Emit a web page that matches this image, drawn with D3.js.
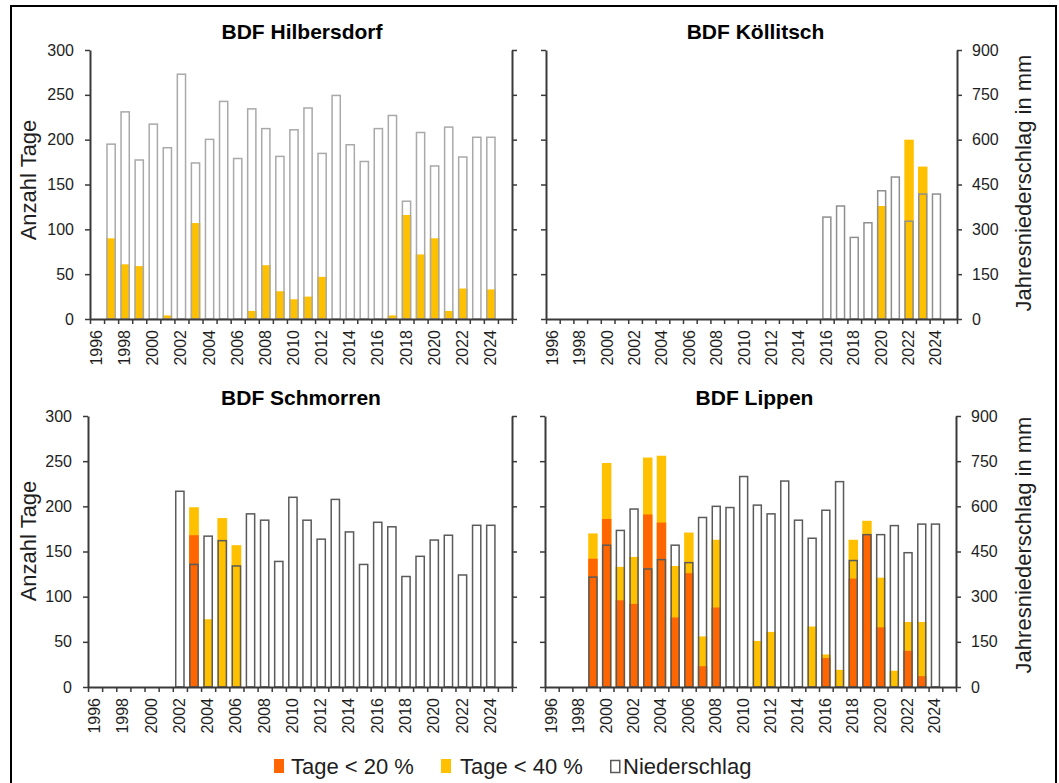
<!DOCTYPE html>
<html>
<head>
<meta charset="utf-8">
<script src="https://cdn.jsdelivr.net/npm/d3@7/dist/d3.min.js"></script>
<style>
  body { margin: 0; background: #fff; }
  svg { display: block; font-family: "Liberation Sans", Arial, sans-serif; }
</style>
</head>
<body>
<script>
// categories: one per year, only even years get a label
const years = [1996, 1997, 1998, 1999, 2000, 2001, 2002, 2003, 2004, 2005,
               2006, 2007, 2008, 2009, 2010, 2011, 2012, 2013, 2014, 2015,
               2016, 2017, 2018, 2019, 2020, 2021, 2022, 2023, 2024, 2025];
const yearLabels = [1996, 1998, 2000, 2002, 2004, 2006, 2008, 2010, 2012, 2014, 2016, 2018, 2020, 2022, 2024];
const dayTicks = [0, 50, 100, 150, 200, 250, 300];
const rainTicks = [0, 150, 300, 450, 600, 750, 900];

// Jahresniederschlag in mm (null = no data)
const rainHilbersdorf = [null, 585, 693, 532, 652, 573, 819, 522, 601, 728, 537, 703, 637, 544, 633,
                         706, 554, 748, 583, 527, 637, 681, 394, 624, 512, 642, 542, 608, 608, null];
const rainKoellitsch = [null, null, null, null, null, null, null, null, null, null, null, null, null, null, null,
                        null, null, null, null, null, 341, 378, 273, 322, 429, 475, 327, 418, 418, null];
const rainSchmorren = [null, null, null, null, null, null, 650, 407, 501, 486, 402, 575, 554, 417, 630,
                       554, 491, 623, 515, 407, 547, 532, 367, 434, 488, 504, 372, 537, 537, null];
const rainLippen = [null, null, null, 365, 471, 520, 591, 392, 423, 471, 413, 563, 600, 596, 699,
                    604, 575, 684, 554, 494, 587, 682, 420, 506, 506, 536, 446, 541, 541, null];

// Tage < 20 % (Anzahl Tage)
const t20Hilbersdorf = [0, 0, 0, 0, 0, 0, 0, 0, 0, 0, 0, 0, 0, 0, 0,
                        0, 0, 0, 0, 0, 0, 0, 0, 0, 0, 0, 0, 0, 0, 0];
const t20Koellitsch = [0, 0, 0, 0, 0, 0, 0, 0, 0, 0, 0, 0, 0, 0, 0,
                       0, 0, 0, 0, 0, 0, 0, 0, 0, 0, 0, 0, 0, 0, 0];
const t20Schmorren = [0, 0, 0, 0, 0, 0, 0, 168, 0, 0, 0, 0, 0, 0, 0,
                      0, 0, 0, 0, 0, 0, 0, 0, 0, 0, 0, 0, 0, 0, 0];
const t20Lippen = [0, 0, 0, 142, 186, 96, 92, 191, 182, 77, 126, 23, 88, 0, 0,
                   0, 0, 0, 0, 0, 32, 0, 120, 169, 66, 0, 40, 12, 0, 0];

// Tage < 40 % (Anzahl Tage, includes the < 20 % days)
const t40Hilbersdorf = [0, 90, 61, 59, 0, 4, 0, 107, 0, 0, 0, 9, 60, 31, 22,
                        25, 47, 0, 0, 0, 0, 4, 116, 72, 90, 9, 34, 0, 33, 0];
const t40Koellitsch = [0, 0, 0, 0, 0, 0, 0, 0, 0, 0, 0, 0, 0, 0, 0,
                       0, 0, 0, 0, 0, 0, 0, 0, 0, 126, 0, 200, 170, 0, 0];
const t40Schmorren = [0, 0, 0, 0, 0, 0, 0, 199, 75, 187, 157, 0, 0, 0, 0,
                      0, 0, 0, 0, 0, 0, 0, 0, 0, 0, 0, 0, 0, 0, 0];
const t40Lippen = [0, 0, 0, 170, 248, 133, 144, 254, 256, 134, 171, 56, 163, 0, 0,
                   51, 61, 0, 0, 67, 36, 19, 163, 184, 121, 18, 72, 72, 0, 0];

const ORANGE = '#ff6600';
const YELLOW = '#ffc000';
const AXIS = '#3a3a3a';
const TEXT = '#1e1e1e';

const panels = [
  {title: 'BDF Hilbersdorf', rain: rainHilbersdorf, t20: t20Hilbersdorf, t40: t40Hilbersdorf,
   x0: 90, x1: 512, y0: 50, y1: 319, left: true, outline: '#a9a9a9', yTitle: 180},
  {title: 'BDF Köllitsch', rain: rainKoellitsch, t20: t20Koellitsch, t40: t40Koellitsch,
   x0: 546, x1: 957, y0: 50, y1: 319, left: false, outline: '#8f8f8f', yTitle: 183},
  {title: 'BDF Schmorren', rain: rainSchmorren, t20: t20Schmorren, t40: t40Schmorren,
   x0: 88, x1: 512, y0: 416, y1: 687, left: true, outline: '#5a5a5a', yTitle: 541},
  {title: 'BDF Lippen', rain: rainLippen, t20: t20Lippen, t40: t40Lippen,
   x0: 545, x1: 956, y0: 416, y1: 687, left: false, outline: '#5a5a5a', yTitle: 545}
];

const svg = d3.select('body').append('svg')
    .attr('width', 1059)
    .attr('height', 783);

svg.append('rect')
    .attr('x', 11).attr('y', 6)
    .attr('width', 1045).attr('height', 790)
    .attr('fill', 'none')
    .attr('stroke', '#000')
    .attr('stroke-width', 2);

panels.forEach(p => {
    const g = svg.append('g');

    const x = d3.scaleBand()
        .domain(years)
        .range([p.x0, p.x1])
        .paddingInner(0.31)
        .paddingOuter(0.155);
    const xEdge = d3.scaleLinear()
        .domain([1996, 2026])
        .range([p.x0, p.x1]);
    const yDays = d3.scaleLinear().domain([0, 300]).range([p.y1, p.y0]);
    const yRain = d3.scaleLinear().domain([0, 900]).range([p.y1, p.y0]);

    const rows = years.map((yr, i) => ({year: yr, rain: p.rain[i], t20: p.t20[i], t40: p.t40[i]}));

    // Tage < 40 % (yellow) behind Tage < 20 % (orange)
    g.append('g').selectAll('rect')
        .data(rows.filter(d => d.t40 > 0))
        .enter().append('rect')
        .attr('x', d => x(d.year))
        .attr('width', x.bandwidth())
        .attr('y', d => yDays(d.t40))
        .attr('height', d => yDays(0) - yDays(d.t40))
        .attr('fill', YELLOW);

    g.append('g').selectAll('rect')
        .data(rows.filter(d => d.t20 > 0))
        .enter().append('rect')
        .attr('x', d => x(d.year))
        .attr('width', x.bandwidth())
        .attr('y', d => yDays(d.t20))
        .attr('height', d => yDays(0) - yDays(d.t20))
        .attr('fill', ORANGE);

    // Niederschlag as hollow bars on top
    g.append('g').selectAll('rect')
        .data(rows.filter(d => d.rain != null))
        .enter().append('rect')
        .attr('x', d => x(d.year) + 0.75)
        .attr('width', x.bandwidth() - 1.5)
        .attr('y', d => yRain(d.rain))
        .attr('height', d => yRain(0) - yRain(d.rain))
        .attr('fill', 'none')
        .attr('stroke', p.outline)
        .attr('stroke-width', 1.5);

    // x axis: ticks at category edges
    const xAxis = g.append('g')
        .attr('transform', `translate(0,${p.y1})`)
        .call(d3.axisBottom(xEdge).tickValues(d3.range(1996, 2027)).tickFormat('').tickSize(5).tickSizeOuter(0));
    xAxis.select('.domain').attr('stroke', AXIS).attr('stroke-width', 2);
    xAxis.selectAll('.tick line').attr('stroke', AXIS).attr('stroke-width', 1.5);

    g.append('g').selectAll('text')
        .data(yearLabels)
        .enter().append('text')
        .attr('transform', d => `translate(${x(d) + x.bandwidth() / 2 + 5},${p.y1 + 11}) rotate(-90)`)
        .attr('text-anchor', 'end')
        .attr('font-size', 16)
        .attr('fill', TEXT)
        .text(d => d);

    // left axis (Anzahl Tage)
    const yLeft = g.append('g')
        .attr('transform', `translate(${p.x0},0)`)
        .call(d3.axisLeft(yDays).tickValues(dayTicks).tickSize(5).tickSizeOuter(0).tickPadding(11)
            .tickFormat(p.left ? d3.format('d') : ''));
    yLeft.select('.domain').attr('stroke', AXIS).attr('stroke-width', 2);
    yLeft.selectAll('.tick line').attr('stroke', AXIS).attr('stroke-width', 1.5);
    yLeft.selectAll('.tick text').attr('font-size', 16).attr('fill', TEXT).attr('font-family', null);

    // right axis (Jahresniederschlag)
    const yRight = g.append('g')
        .attr('transform', `translate(${p.x1},0)`)
        .call(d3.axisRight(yRain).tickValues(rainTicks).tickSize(5).tickSizeOuter(0).tickPadding(10)
            .tickFormat(p.left ? '' : d3.format('d')));
    yRight.select('.domain').attr('stroke', AXIS).attr('stroke-width', 2);
    yRight.selectAll('.tick line').attr('stroke', AXIS).attr('stroke-width', 1.5);
    yRight.selectAll('.tick text').attr('font-size', 16).attr('fill', TEXT).attr('font-family', null);

    // panel title
    g.append('text')
        .attr('x', (p.x0 + p.x1) / 2 + (p.left ? 1 : 4))
        .attr('y', p.y0 - 11)
        .attr('text-anchor', 'middle')
        .attr('font-size', 21)
        .attr('font-weight', 'bold')
        .attr('fill', '#000')
        .text(p.title);

    // axis titles
    if (p.left) {
        g.append('text')
            .attr('transform', `translate(28,${p.yTitle}) rotate(-90)`)
            .attr('text-anchor', 'middle')
            .attr('dominant-baseline', 'central')
            .attr('font-size', 22)
            .attr('fill', TEXT)
            .text('Anzahl Tage');
    } else {
        g.append('text')
            .attr('transform', `translate(1023,${p.yTitle}) rotate(-90)`)
            .attr('text-anchor', 'middle')
            .attr('dominant-baseline', 'central')
            .attr('font-size', 22)
            .attr('fill', TEXT)
            .text('Jahresniederschlag in mm');
    }
});

// legend
const legendItems = [
    {label: 'Tage < 20 %', fill: ORANGE, stroke: 'none', x: 274, tx: 291},
    {label: 'Tage < 40 %', fill: YELLOW, stroke: 'none', x: 441, tx: 460},
    {label: 'Niederschlag', fill: 'none', stroke: '#5a5a5a', x: 610, tx: 623}
];
const legend = svg.append('g');
const li = legend.selectAll('g')
    .data(legendItems)
    .enter().append('g');
li.append('rect')
    .attr('x', d => d.stroke === 'none' ? d.x : d.x + 0.75)
    .attr('y', d => d.stroke === 'none' ? 759 : 760.5)
    .attr('width', d => d.stroke === 'none' ? 10 : 9)
    .attr('height', d => d.stroke === 'none' ? 14 : 12)
    .attr('fill', d => d.fill)
    .attr('stroke', d => d.stroke)
    .attr('stroke-width', 1.5);
li.append('text')
    .attr('x', d => d.tx)
    .attr('y', 774)
    .attr('font-size', 22)
    .attr('fill', TEXT)
    .text(d => d.label);
</script>
</body>
</html>
